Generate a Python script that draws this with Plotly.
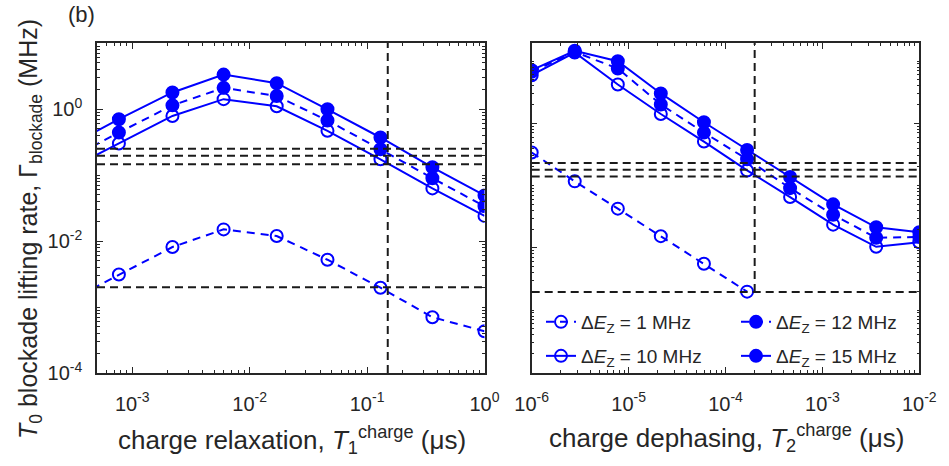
import plotly.graph_objects as go

# ---------------- data ----------------
# left panel: charge relaxation T1 (us)
t1 = [2.8e-4, 7.7e-4, 2.2e-3, 6.0e-3, 1.7e-2, 4.6e-2, 0.13, 0.36, 1.0]
left_1 = [1.2e-3, 3.1e-3, 8.1e-3, 1.5e-2, 1.19e-2, 5.2e-3, 1.96e-3, 7.0e-4, 4.3e-4]
left_10 = [0.12, 0.30, 0.785, 1.41, 1.10, 0.467, 0.173, 0.0627, 0.024]
left_12 = [0.17, 0.44, 1.135, 2.09, 1.57, 0.67, 0.245, 0.0895, 0.0336]
left_15 = [0.27, 0.70, 1.78, 3.32, 2.46, 0.99, 0.37, 0.131, 0.049]
left_hlines = [0.25, 0.195, 0.145, 2.0e-3]
left_vline = 0.15

# right panel: charge dephasing T2 (us)
t2 = [1e-6, 2.78e-6, 7.74e-6, 2.15e-5, 5.99e-5, 1.67e-4, 4.64e-4, 1.29e-3, 3.59e-3, 1e-2]
right_1 = [0.34, 0.117, 0.0426, 0.0154, 0.00555, 0.00198]
right_10 = [5.93, 13.7, 4.21, 1.41, 0.509, 0.175, 0.0655, 0.0236, 0.0104, 0.0123]
right_12 = [6.71, 14.0, 7.59, 2.01, 0.71, 0.265, 0.091, 0.034, 0.0145, 0.015]
right_15 = [7.13, 14.6, 9.94, 3.02, 1.04, 0.374, 0.137, 0.050, 0.0214, 0.0178]
right_hlines = [0.23, 0.18, 0.14, 1.95e-3]
right_vline = 2.0e-4

series_names = ["Δ<i>E</i><sub>Z</sub> = 1 MHz", "Δ<i>E</i><sub>Z</sub> = 10 MHz",
                "Δ<i>E</i><sub>Z</sub> = 12 MHz", "Δ<i>E</i><sub>Z</sub> = 15 MHz"]

# ticks
x1_tickvals = [1e-3, 1e-2, 1e-1, 1e0]
x1_ticktext = ["10<sup>-3</sup>", "10<sup>-2</sup>", "10<sup>-1</sup>", "10<sup>0</sup>"]
x2_tickvals = [1e-6, 1e-5, 1e-4, 1e-3, 1e-2]
x2_ticktext = ["10<sup>-6</sup>", "10<sup>-5</sup>", "10<sup>-4</sup>", "10<sup>-3</sup>", "10<sup>-2</sup>"]
y_tickvals = [1e-4, 1e-2, 1e0]
y_ticktext = ["10<sup>-4</sup>", "10<sup>-2</sup>", "10<sup>0</sup>"]

x1_range = [-3.3, 0]
x2_range = [-6, -2]
y1_range = [-4, 1]
y2_range = [-4.01, 1.29]

BLUE = "#0000ff"
BLACK = "#1a1a1a"
AX = "#262626"
FONT = "Liberation Sans, Arial, sans-serif"


def minor_vals(lo, hi, skip):
    vals = []
    for e in range(lo, hi + 1):
        for m in range(1, 10):
            v = m * 10.0 ** e
            if m == 1 and v in skip:
                continue
            vals.append(v)
    return vals


fig = go.Figure()

# (left values, right values, symbol, dash, legend row: row 1 -> "legend", row 2 -> "legend2")
styles = [
    (left_1, right_1, "circle-open", "dash", "legend"),
    (left_10, right_10, "circle-open", "solid", "legend2"),
    (left_12, right_12, "circle", "dash", "legend"),
    (left_15, right_15, "circle", "solid", "legend2"),
]

for (ly, ry, sym, dash, leg), name in zip(styles, series_names):
    mk = dict(symbol=sym, size=12, color=BLUE, line=dict(width=2, color=BLUE))
    ln = dict(color=BLUE, width=2, dash="8px,6px" if dash == "dash" else "solid")
    fig.add_trace(go.Scatter(x=t1, y=ly, mode="lines+markers", marker=mk, line=ln,
                             name=name, legend=leg, xaxis="x", yaxis="y"))
    fig.add_trace(go.Scatter(x=t2[:len(ry)], y=ry, mode="lines+markers", marker=mk, line=ln,
                             name=name, showlegend=False, xaxis="x2", yaxis="y2"))

# threshold lines
DL = dict(color=BLACK, width=2, dash="8px,5px")
for h in left_hlines:
    fig.add_shape(type="line", xref="x domain", yref="y", x0=0, x1=1, y0=h, y1=h, line=DL)
for h in right_hlines:
    fig.add_shape(type="line", xref="x2 domain", yref="y2", x0=0, x1=1, y0=h, y1=h, line=DL)
fig.add_shape(type="line", xref="x", yref="y domain", x0=left_vline, x1=left_vline, y0=0, y1=1,
              line=DL)
fig.add_trace(go.Scatter(x=[right_vline, right_vline], y=[right_hlines[-1], 10 ** y2_range[1]],
                         mode="lines", line=DL, showlegend=False, hoverinfo="skip",
                         xaxis="x2", yaxis="y2"))

common = dict(type="log", showgrid=False, zeroline=False, showline=True, linecolor=AX,
              linewidth=1.5, mirror="allticks", ticks="inside", ticklen=6, tickwidth=1,
              tickcolor=AX, tickmode="array", automargin=False,
              tickfont=dict(family=FONT, size=20, color=AX))


def minor(vals):
    return dict(tickmode="array", tickvals=vals, ticks="inside", ticklen=3,
                tickcolor=AX, showgrid=False)


dx1 = [97 / 949, 484.5 / 949]
dx2 = [531.7 / 949, 919.3 / 949]
dy = [(466 - 373) / 466, (466 - 43) / 466]

legend_common = dict(orientation="h", x=541 / 949, xanchor="left", yanchor="middle",
                     entrywidth=150, entrywidthmode="pixels", traceorder="normal",
                     bgcolor="rgba(0,0,0,0)", borderwidth=0,
                     font=dict(family=FONT, size=19, color=AX))

fig.update_layout(
    width=949, height=466, margin=dict(l=0, r=0, t=0, b=0, autoexpand=False),
    paper_bgcolor="white", plot_bgcolor="white",
    font=dict(family=FONT, color=AX),
    xaxis=dict(common, domain=dx1, range=x1_range, tickvals=x1_tickvals, ticktext=x1_ticktext,
               anchor="y", ticklabelstandoff=12, minor=minor(minor_vals(-4, 0, x1_tickvals))),
    yaxis=dict(common, domain=dy, range=y1_range, tickvals=y_tickvals, ticktext=y_ticktext,
               anchor="x", ticklabelstandoff=9, minor=minor(minor_vals(-4, 1, y_tickvals))),
    xaxis2=dict(common, domain=dx2, range=x2_range, tickvals=x2_tickvals, ticktext=x2_ticktext,
                anchor="y2", ticklabelstandoff=12, minor=minor(minor_vals(-6, -2, x2_tickvals))),
    yaxis2=dict(common, domain=dy, range=y2_range, tickvals=y_tickvals, ticktext=y_ticktext,
                anchor="x2", showticklabels=False, minor=minor(minor_vals(-4, 1, y_tickvals))),
    legend=dict(legend_common, y=(466 - 322) / 466),
    legend2=dict(legend_common, y=(466 - 356) / 466),
    showlegend=True,
)

fig.add_annotation(text="(b)", xref="paper", yref="paper", x=81 / 949, y=(466 - 15) / 466,
                   xanchor="center", yanchor="middle",
                   showarrow=False, font=dict(family=FONT, size=22, color=AX))
fig.add_annotation(text="<i>T</i><sub>0</sub> blockade lifting rate, Γ<sub>blockade</sub> (MHz)",
                   xref="paper", yref="paper", x=30 / 949, y=(466 - 229) / 466, textangle=-90,
                   xanchor="center", yanchor="middle",
                   showarrow=False, font=dict(family=FONT, size=25, color=AX))
fig.add_annotation(text="charge relaxation, <i>T</i><sub>1</sub><sup>charge</sup> (μs)",
                   xref="paper", yref="paper", x=292 / 949, y=(466 - 440) / 466,
                   xanchor="center", yanchor="middle",
                   showarrow=False, font=dict(family=FONT, size=26, color=AX))
fig.add_annotation(text="charge dephasing, <i>T</i><sub>2</sub><sup>charge</sup> (μs)",
                   xref="paper", yref="paper", x=726 / 949, y=(466 - 438) / 466,
                   xanchor="center", yanchor="middle",
                   showarrow=False, font=dict(family=FONT, size=26, color=AX))

fig.write_html("out.html")
